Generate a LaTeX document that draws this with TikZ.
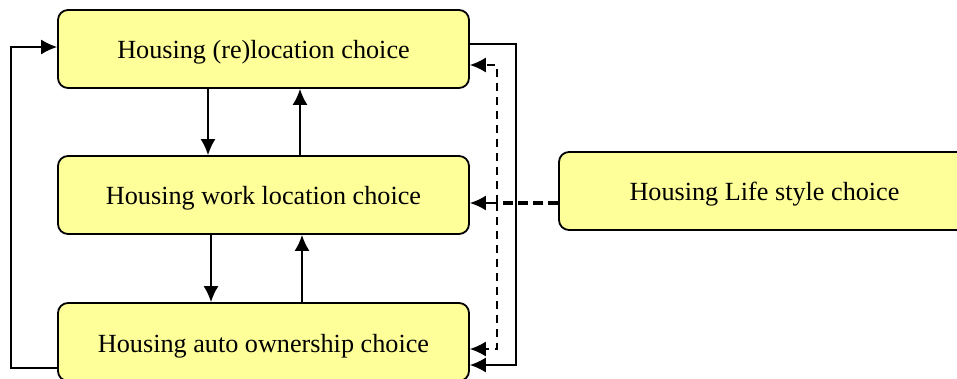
\documentclass[tikz,border=0pt]{standalone}
\usepackage{fontspec}
\setmainfont{Liberation Serif}
\usetikzlibrary{arrows.meta}
\definecolor{choiceyellow}{HTML}{FFFF99}
\tikzset{
  >={Latex[length=8pt,width=7.5pt]},
  choice/.style ={draw, line width=0.9pt, fill=choiceyellow, rounded corners=5pt,
                  minimum width=205.5pt, minimum height=39pt,
                  text height=12pt, text depth=2pt,
                  font=\fontsize{13.1}{15}\selectfont},
  link/.style ={line width=0.9pt},
  thin link/.style ={line width=0.75pt},
  weak link/.style ={thin link, dash pattern=on 4pt off 3pt},
  strong link/.style ={line width=2.2pt, dash pattern=on 5pt off 2.5pt},
}

\begin{document}
\begin{tikzpicture}[x=0.5pt,y=-0.5pt]
\useasboundingbox (0,0) rectangle (957,379);
\node[choice] (reloc) at (263.5,49) {Housing (re)location choice};
\node[choice] (work) at (263.5,195) {Housing work location choice};
\node[choice] (auto) at (263.5,342) {Housing auto ownership choice};
\node[choice] (life) at (764.5,191) {Housing Life style choice};
\coordinate (lft) at (11,0);
\coordinate (rgt) at (516,0);
\coordinate (tap) at (497,203);
% choices between the levels
\draw[link,->] ([xshift=-27.75pt]reloc.south) -- ([xshift=-27.75pt]work.north);
\draw[link,->] ([xshift=18.25pt]work.north) -- ([xshift=18.25pt]reloc.south);
\draw[link,->] ([xshift=-26.25pt]work.south) -- ([xshift=-26.25pt]auto.north);
\draw[link,->] ([xshift=19.25pt]auto.north) -- ([xshift=19.25pt]work.south);
% feedback loops
\coordinate (a1) at ([yshift=-13pt]auto.west);
\coordinate (r1) at ([yshift=1pt]reloc.west);
\draw[thin link,->] (a1) -- (a1 -| lft) -- (r1 -| lft) -- (r1);
\coordinate (r2) at ([yshift=2.5pt]reloc.east);
\coordinate (a2) at ([yshift=-11.5pt]auto.east);
\draw[thin link,->] (r2) -- (r2 -| rgt) -- (a2 -| rgt) -- (a2);
% life style influence
\draw[strong link] ([yshift=-6pt]life.west) -- (tap);
\draw[link,->] (tap) -- (tap -| work.east);
\draw[weak link,->] (tap) |- ([yshift=-8pt]reloc.east);
\draw[weak link,->] (tap) |- ([yshift=-3.5pt]auto.east);
\end{tikzpicture}
\end{document}
